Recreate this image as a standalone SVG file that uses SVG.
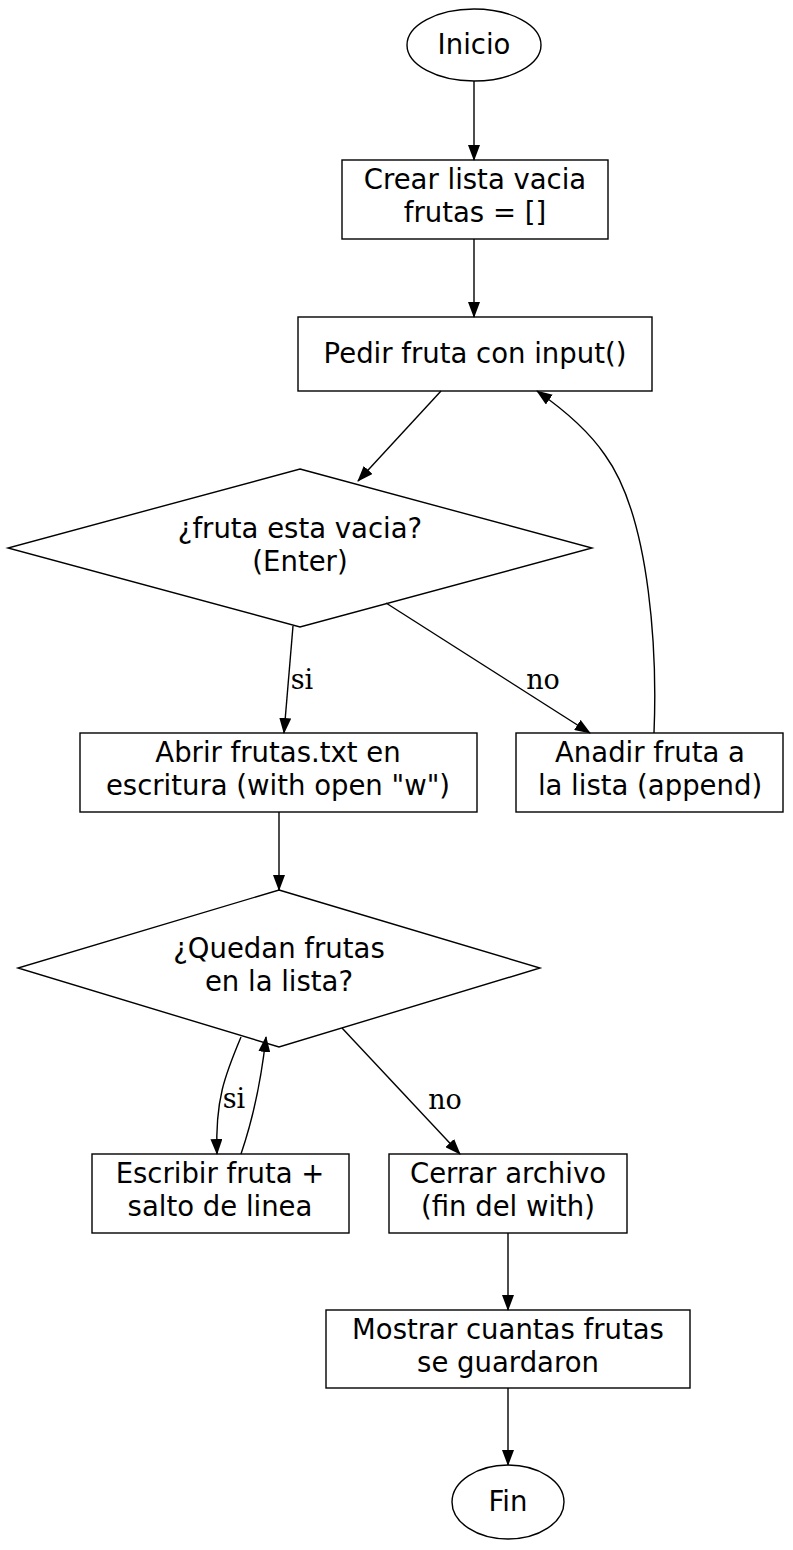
<svg xmlns="http://www.w3.org/2000/svg" width="793" height="1550" viewBox="0 0 793 1550">
<defs>
<marker id="ah2" markerWidth="16" markerHeight="12" refX="15" refY="6" orient="auto" markerUnits="userSpaceOnUse"><path d="M0,0 L16,6 L0,12 z" fill="#000"/></marker>
<style>
.n{fill:#fff;stroke:#000;stroke-width:1.4}
.t{font-family:"DejaVu Sans",sans-serif;font-size:27.5px;text-anchor:middle}
.e{fill:none;stroke:#000;stroke-width:1.4;marker-end:url(#ah2)}
.l{font-family:"DejaVu Serif",serif;font-size:27px;text-anchor:middle}
</style>
</defs>
<rect width="793" height="1550" fill="#fff"/>
<g id="inicio"><ellipse class="n" cx="474" cy="45" rx="67" ry="36"/><text class="t" x="474" y="54">Inicio</text></g>
<g id="crear"><rect class="n" x="342" y="160" width="266" height="79"/><text class="t" x="475" y="189">Crear lista vacia</text><text class="t" x="475" y="222">frutas = []</text></g>
<g id="pedir"><rect class="n" x="298" y="317" width="354" height="74"/><text class="t" x="475" y="363">Pedir fruta con input()</text></g>
<g id="d1"><polygon class="n" points="300,469 592,548 300,627 8,548"/><text class="t" x="300" y="538">¿fruta esta vacia?</text><text class="t" x="300" y="571">(Enter)</text></g>
<g id="abrir"><rect class="n" x="80" y="733" width="397" height="79"/><text class="t" x="278" y="762">Abrir frutas.txt en</text><text class="t" x="278" y="795">escritura (with open "w")</text></g>
<g id="anadir"><rect class="n" x="516" y="733" width="267" height="79"/><text class="t" x="650" y="762">Anadir fruta a</text><text class="t" x="650" y="795">la lista (append)</text></g>
<g id="d2"><polygon class="n" points="279,890 540,968 279,1047 18,968"/><text class="t" x="279" y="958">¿Quedan frutas</text><text class="t" x="279" y="991">en la lista?</text></g>
<g id="escribir"><rect class="n" x="92" y="1154" width="257" height="79"/><text class="t" x="220" y="1183">Escribir fruta +</text><text class="t" x="220" y="1216">salto de linea</text></g>
<g id="cerrar"><rect class="n" x="389" y="1154" width="238" height="79"/><text class="t" x="508" y="1183">Cerrar archivo</text><text class="t" x="508" y="1216">(fin del with)</text></g>
<g id="mostrar"><rect class="n" x="326" y="1310" width="364" height="78"/><text class="t" x="508" y="1339">Mostrar cuantas frutas</text><text class="t" x="508" y="1372">se guardaron</text></g>
<g id="fin"><ellipse class="n" cx="508" cy="1502" rx="56" ry="37"/><text class="t" x="508" y="1511">Fin</text></g>
<g id="edges">
<path class="e" d="M474,81 L474,160"/>
<path class="e" d="M474,239 L474,317"/>
<path class="e" d="M441,391 L358,481"/>
<path class="e" d="M293,626 L284,733"/>
<text class="l" x="302" y="689">si</text>
<path class="e" d="M386,603 L590,733"/>
<text class="l" x="543" y="689">no</text>
<path class="e" d="M654,733 C657,660 652,520 605,455 C590,433 570,414 537,391"/>
<path class="e" d="M279,812 L279,890"/>
<path class="e" d="M241,1037 C225,1075 215,1100 217,1154"/>
<text class="l" x="234" y="1108">si</text>
<path class="e" d="M241,1154 C252,1122 261,1082 266,1037"/>
<text class="l" x="445" y="1109">no</text>
<path class="e" d="M342,1028 L460,1154"/>
<path class="e" d="M508,1233 L508,1310"/>
<path class="e" d="M508,1388 L508,1465"/>
</g>
</svg>
